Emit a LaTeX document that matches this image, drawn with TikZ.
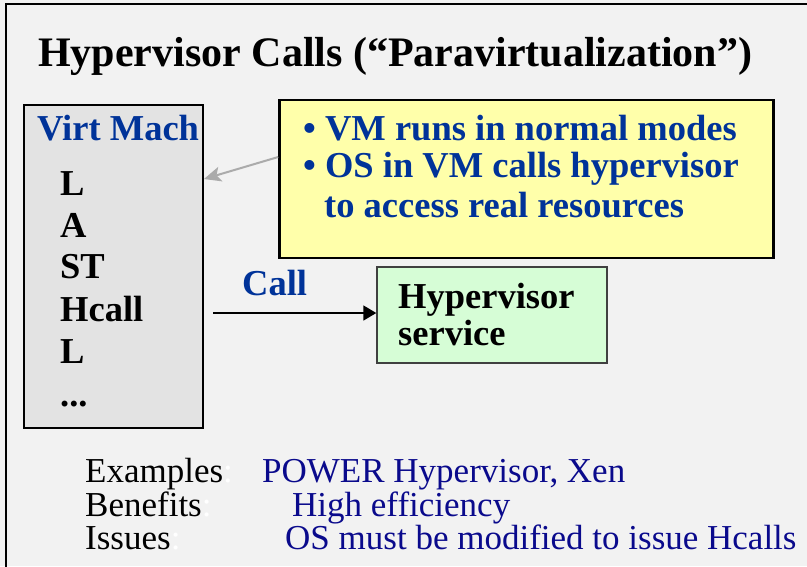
\documentclass[tikz,border=0pt]{standalone}
\usepackage{fontspec}
\setmainfont{Liberation Serif}
\usetikzlibrary{positioning, arrows.meta}

\definecolor{fondo}{RGB}{242,242,242}
\definecolor{azul}{RGB}{0,51,153}
\definecolor{marino}{RGB}{10,10,140}
\definecolor{amarillo}{RGB}{255,255,170}
\definecolor{verde}{RGB}{214,253,214}
\definecolor{grismaq}{RGB}{227,227,227}

\begin{document}
\begin{tikzpicture}[
    x=1pt, y=-1pt,
    % ====================
    % ESTILOS
    % ====================
    panel/.style={
        rectangle, draw=black, line width=2pt, inner sep=0pt
    },
    vmbox/.style={
        panel, fill=grismaq, minimum width=179pt, minimum height=323pt
    },
    notebox/.style={
        panel, fill=amarillo, line width=2.6pt,
        minimum width=494pt, minimum height=158pt
    },
    servbox/.style={
        rectangle, draw=black!75, line width=1.4pt, fill=verde,
        minimum width=230pt, minimum height=96pt, inner sep=0pt
    },
    heading/.style={
        anchor=base west, inner sep=0pt, text=azul,
        font=\fontsize{36.5}{40}\selectfont\bfseries
    },
    item/.style={
        anchor=base west, inner sep=0pt,
        font=\fontsize{36.5}{40}\selectfont\bfseries
    },
    info/.style={
        anchor=base west, inner sep=0pt,
        font=\fontsize{35}{40}\selectfont
    },
    line/.style={
        line width=1.6pt, draw=black, -{Triangle[length=13pt, width=15pt]}
    },
    pointer/.style={
        line width=2pt, draw=black!33, -{Stealth[length=17pt, width=15pt, inset=4pt]}
    }
]

% ====================
% FONDO Y MARCO
% ====================
\useasboundingbox (0,0) rectangle (807,566);
\fill[fondo] (0,0) rectangle (807,566);
\draw[line width=2pt] (6,620) -- (6,4) -- (860,4);

% Titulo
\node[anchor=base west, inner sep=0pt, font=\fontsize{42}{48}\selectfont\bfseries]
    (title) at (38,66) {Hypervisor Calls (“Paravirtualization”)};

% ====================
% MAQUINA VIRTUAL
% ====================
\node[vmbox] (vm) at (113.5,266.5) {};
\node[heading] (vmhead) at (37,140) {Virt Mach};
\node[item] (i1) at (60,195) {L};
\node[item] (i2) at (60,237) {A};
\node[item] (i3) at (60,278) {ST};
\node[item] (i4) at (60,321) {Hcall};
\node[item] (i5) at (60,363) {L};
\node[item] (i6) at (60,406) {...};

% ====================
% NOTA Y SERVICIO
% ====================
\node[notebox] (note) at (526.5,179) {};
\node[heading] (n1) at (303,140) {\textbullet\ VM runs in normal modes};
\node[heading] (n2) at (303,177) {\textbullet\ OS in VM calls hypervisor};
\node[heading] (n3) at (324,217) {to access real resources};

\node[servbox] (serv) at (492,315) {};
\node[item] (s1) at (398,308) {Hypervisor};
\node[item] (s2) at (398,345) {service};

% ====================
% FLECHAS
% ====================
\draw[pointer] ([yshift=22pt]note.west) -- ([yshift=87.5pt]vm.east);

\coordinate (callstart) at (213,313);
\draw[line] (callstart) -- (callstart -| serv.west);
\node[heading] (call) at (242,295) {Call};

% ====================
% RESUMEN
% ====================
\node[info] (ex) at (85,482) {Examples\textcolor{white}{:}};
\node[info, text=marino] (exv) at (262,482) {POWER Hypervisor, Xen};
\node[info] (be) at (85,516) {Benefits\textcolor{white}{:}};
\node[info, text=marino] (bev) at (292,516) {High efficiency};
\node[info] (is) at (85,549) {Issues\textcolor{white}{:}};
\node[info, text=marino] (isv) at (285,549) {OS must be modified to issue Hcalls};

\end{tikzpicture}
\end{document}
